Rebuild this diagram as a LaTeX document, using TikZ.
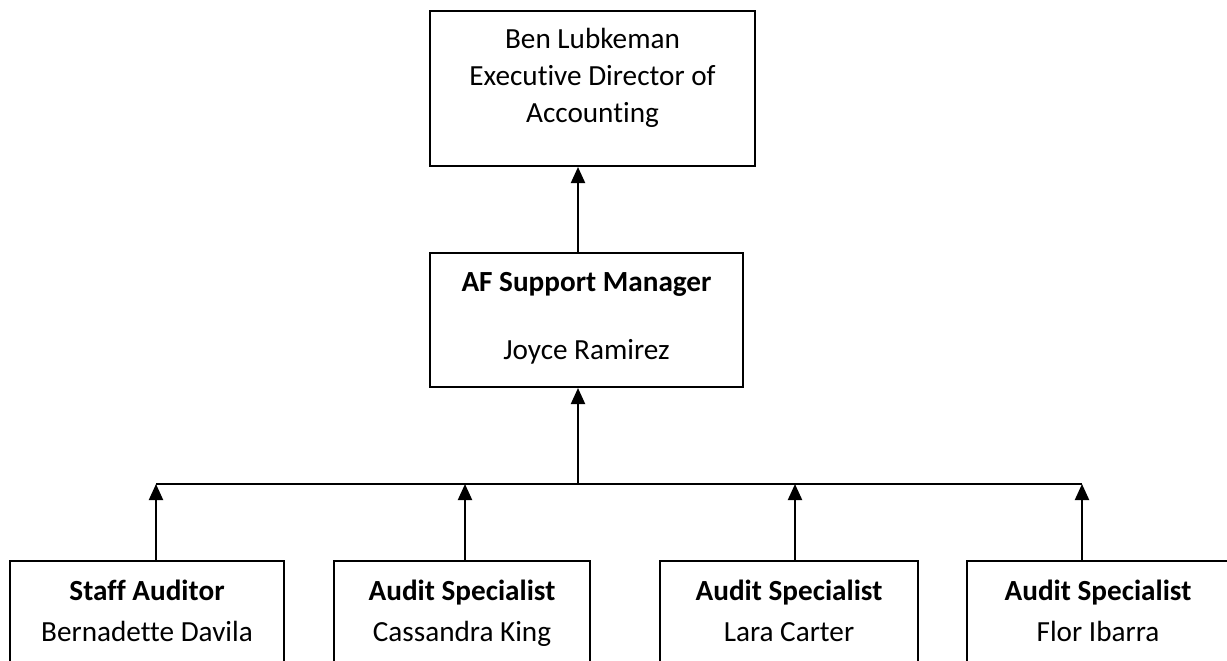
\documentclass[tikz,border=0pt]{standalone}
\usepackage{fontspec}
\setmainfont[RawFeature=-liga]{Carlito}
\usetikzlibrary{arrows.meta}
\tikzset{
  box/.style={draw=black, line width=1pt, rectangle, inner sep=0pt},
  lbl/.style={inner sep=0pt, font=\fontsize{14.6}{18.5}\selectfont, align=center},
  one/.style={lbl, text height=10pt, text depth=3pt},
  arr/.style={draw=black, line width=1pt, -{Triangle[width=7pt,length=8pt]}},
  bus/.style={draw=black, line width=0.8pt}
}
\begin{document}
\begin{tikzpicture}[x=0.5pt, y=-0.5pt]
\useasboundingbox (0,0) rectangle (1227,660);
\clip (0,0) rectangle (1227,660);
% top box
\node[box, minimum width=162.5pt, minimum height=77.5pt] (top) at (592.5,88.5) {};
\node[lbl] (toptxt) at (592.5,78) {Ben Lubkeman\\Executive Director of\\Accounting};
% middle box
\node[box, minimum width=156.5pt, minimum height=67pt] (mid) at (586.5,320) {};
\node[one] (midt) at (586.5,284) {\textbf{AF Support Manager}};
\node[one] (midn) at (586.5,352) {Joyce Ramirez};
% bottom boxes (cut by the page edge)
\node[box, minimum width=137pt, minimum height=80pt] (b1) at (147,641) {};
\node[box, minimum width=128pt, minimum height=80pt] (b2) at (462,641) {};
\node[box, minimum width=129pt, minimum height=80pt] (b3) at (789,641) {};
\node[box, minimum width=150pt, minimum height=80pt] (b4) at (1117,641) {};
\node[one] (b1t) at (147,593) {\textbf{Staff Auditor}};
\node[one] (b1n) at (147,634) {Bernadette Davila};
\node[one] (b2t) at (462,593) {\textbf{Audit Specialist}};
\node[one] (b2n) at (462,634) {Cassandra King};
\node[one] (b3t) at (789,593) {\textbf{Audit Specialist}};
\node[one] (b3n) at (789,634) {Lara Carter};
\node[one] (b4t) at (1098,593) {\textbf{Audit Specialist}};
\node[one] (b4n) at (1098,634) {Flor Ibarra};
% connector helpers
\coordinate (cx) at (578,0);
\coordinate (busL) at (156,484);
\coordinate (busR) at (1082,484);
\coordinate (x1) at (156,0);
\coordinate (x2) at (465,0);
\coordinate (x3) at (795,0);
\coordinate (x4) at (1082,0);
% connectors
\draw[arr] (mid.north -| cx) -- (top.south -| cx);
\draw[bus] (busL) -- (busR);
\draw[arr] (busL -| cx) -- (mid.south -| cx);
\draw[arr] (b1.north -| x1) -- (busL -| x1);
\draw[arr] (b2.north -| x2) -- (busL -| x2);
\draw[arr] (b3.north -| x3) -- (busL -| x3);
\draw[arr] (b4.north -| x4) -- (busL -| x4);
\end{tikzpicture}
\end{document}
